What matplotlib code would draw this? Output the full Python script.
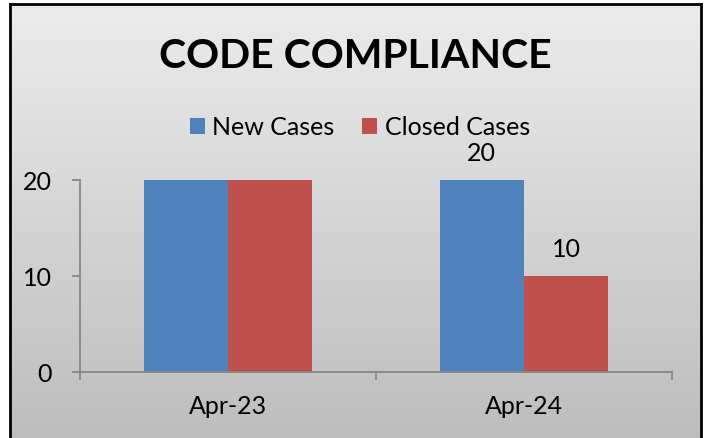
import matplotlib.pyplot as plt
import numpy as np
from matplotlib.colors import LinearSegmentedColormap

months = ['Apr-23', 'Apr-24']
new_cases = [20, 20]
closed_cases = [20, 10]
series_names = ['New Cases', 'Closed Cases']
colors = ['#4F81BD', '#C0504D']

plt.rcParams['font.family'] = ['Lato', 'DejaVu Sans']

W, H = 707, 439
fig = plt.figure(figsize=(W / 100, H / 100), dpi=100)

# grey gradient panel with black frame
bg = fig.add_axes([10 / W, 0, 691 / W, 1 - 5 / H])
grad = np.linspace(0, 1, 256).reshape(-1, 1)
cmap = LinearSegmentedColormap.from_list('g', ['#ECECEC', '#BDBDBD'])
bg.imshow(grad, aspect='auto', cmap=cmap, extent=[0, 1, 0, 1], origin='upper')
bg.set_xticks([])
bg.set_yticks([])
for side in ['left', 'top', 'right']:
    bg.spines[side].set_color('black')
    bg.spines[side].set_linewidth(2)
bg.spines['bottom'].set_visible(False)

ax = fig.add_axes([80 / W, 1 - 373 / H, 592 / W, 192 / H])
ax.patch.set_alpha(0)
x = np.arange(len(months))
w = 0.285
b1 = ax.bar(x - w / 2, new_cases, w, color=colors[0], label=series_names[0])
b2 = ax.bar(x + w / 2, closed_cases, w, color=colors[1], label=series_names[1])
ax.set_xlim(-0.5, 1.5)
ax.set_ylim(0, 20)
ax.set_yticks([0, 10, 20])
ax.set_xticks(x)
ax.set_xticklabels(months)
ax.set_xticks([-0.5, 0.5, 1.5], minor=True)
ax.tick_params(axis='x', which='major', length=0, pad=16, labelsize=18)
ax.tick_params(axis='x', which='minor', length=6, color='#868686', width=1.3)
ax.tick_params(axis='y', length=6, color='#868686', width=1.3, pad=14, labelsize=18)
for side in ['top', 'right']:
    ax.spines[side].set_visible(False)
for side in ['left', 'bottom']:
    ax.spines[side].set_color('#868686')
    ax.spines[side].set_linewidth(1.3)

# data labels only on the latest month
for bars in (b1, b2):
    r = bars[1]
    ax.annotate(f'{int(r.get_height())}', (r.get_x() + r.get_width() / 2, r.get_height()),
                xytext=(0, 20), textcoords='offset points', ha='center', va='center',
                fontsize=18, annotation_clip=False)

fig.text(355 / W, 1 - 56 / H, 'CODE COMPLIANCE', ha='center', va='center',
         fontsize=29.5, fontweight='bold')
fig.legend(handles=[b1, b2], labels=series_names, loc='center', ncol=2,
           bbox_to_anchor=(360 / W, 1 - 128 / H), frameon=False, fontsize=18,
           handlelength=0.6, handleheight=0.6, handletextpad=0.3, columnspacing=1.1)

fig.savefig('out.png', dpi=100)
